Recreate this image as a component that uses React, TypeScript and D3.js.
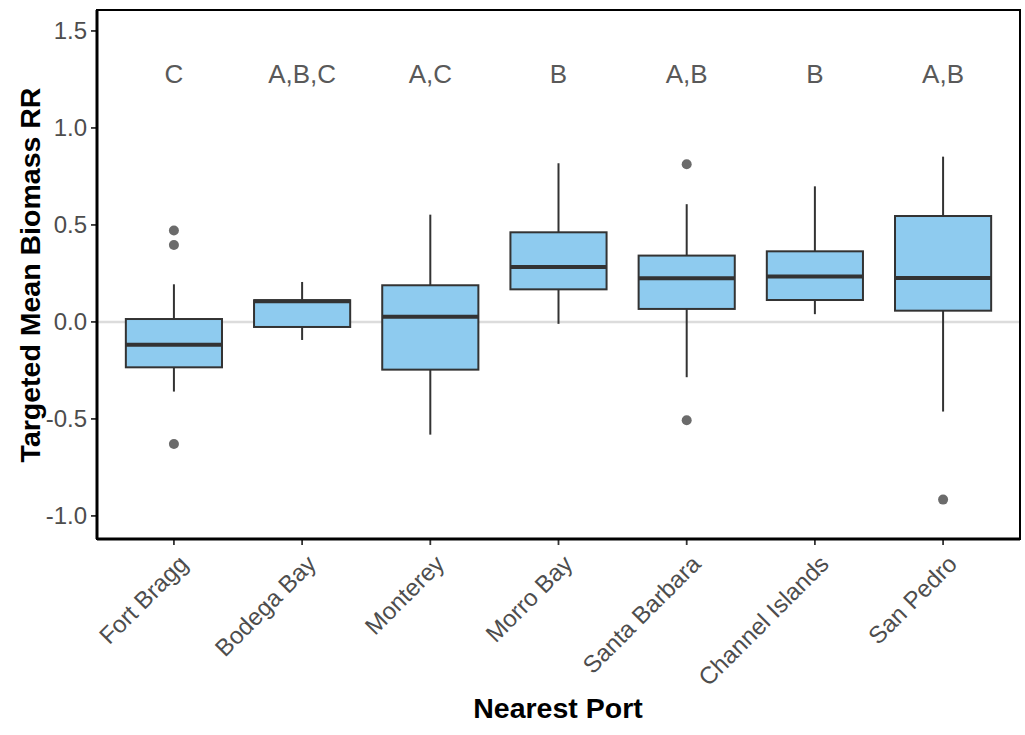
import React from "react";
import * as d3 from "d3";

const ports = ["Fort Bragg", "Bodega Bay", "Monterey", "Morro Bay", "Santa Barbara", "Channel Islands", "San Pedro"];
const q1 = [-0.234, -0.026, -0.246, 0.168, 0.067, 0.113, 0.058];
const medians = [-0.117, 0.106, 0.027, 0.283, 0.225, 0.234, 0.227];
const q3 = [0.015, 0.112, 0.189, 0.462, 0.342, 0.364, 0.546];
const whiskerLow = [-0.359, -0.093, -0.581, -0.010, -0.285, 0.040, -0.462];
const whiskerHigh = [0.194, 0.206, 0.553, 0.818, 0.607, 0.699, 0.852];
const outliers: number[][] = [[0.471, 0.397, -0.629], [], [], [], [0.813, -0.507], [], [-0.916]];
const letters = ["C", "A,B,C", "A,C", "B", "A,B", "B", "A,B"];
const yTicks = [-1.0, -0.5, 0.0, 0.5, 1.0, 1.5];
const letterY = 1.28;

export default function App() {
  const W = 1025, H = 735;
  const left = 97, right = 1020, top = 10, bottom = 539;
  const y = d3.scaleLinear().domain([-1.119, 1.608]).range([bottom, top]);
  const x = d3.scalePoint<string>().domain(ports).range([left, right]).padding(0.6);
  const step = x.step();
  const bw = step * 0.75;
  const font = "Liberation Sans, Arial, Helvetica, sans-serif";
  return (
    <svg width={W} height={H} style={{ position: "absolute", left: 0, top: 0, background: "#fff" }}>
      <rect x={0} y={0} width={W} height={H} fill="#fff" />
      <line x1={left} x2={right} y1={y(0)} y2={y(0)} stroke="#dcdcdc" strokeWidth={2.5} />
      {ports.map((p, i) => {
        const c = x(p) as number;
        return (
          <g key={p}>
            <line x1={c} x2={c} y1={y(q3[i])} y2={y(whiskerHigh[i])} stroke="#333" strokeWidth={2} />
            <line x1={c} x2={c} y1={y(q1[i])} y2={y(whiskerLow[i])} stroke="#333" strokeWidth={2} />
            <rect x={c - bw / 2} y={y(q3[i])} width={bw} height={y(q1[i]) - y(q3[i])} fill="#8ecbef" stroke="#333" strokeWidth={2} />
            <line x1={c - bw / 2} x2={c + bw / 2} y1={y(medians[i])} y2={y(medians[i])} stroke="#333" strokeWidth={4} />
            {outliers[i].map((o, j) => (
              <circle key={j} cx={c} cy={y(o)} r={5} fill="#6b6b6b" />
            ))}
            <text x={c} y={y(letterY)} textAnchor="middle" dominantBaseline="central" fontFamily={font} fontSize={26} fill="#595959">
              {letters[i]}
            </text>
            <line x1={c} x2={c} y1={bottom} y2={bottom + 6} stroke="#333" strokeWidth={1.8} />
            <text
              transform={`translate(${c + 3},${bottom + 14}) rotate(-45)`}
              textAnchor="end"
              dominantBaseline="hanging"
              fontFamily={font}
              fontSize={24}
              fill="#4d4d4d"
            >
              {p}
            </text>
          </g>
        );
      })}
      {yTicks.map((t) => (
        <g key={t}>
          <line x1={left - 6} x2={left} y1={y(t)} y2={y(t)} stroke="#333" strokeWidth={1.8} />
          <text x={left - 10} y={y(t)} textAnchor="end" dominantBaseline="central" fontFamily={font} fontSize={24} fill="#4d4d4d">
            {t.toFixed(1)}
          </text>
        </g>
      ))}
      <rect x={left} y={top} width={right - left} height={bottom - top} fill="none" stroke="#000" strokeWidth={2} />
      <line x1={left} x2={left} y1={top} y2={bottom} stroke="#000" strokeWidth={3} />
      <line x1={left} x2={right} y1={bottom} y2={bottom} stroke="#000" strokeWidth={3} />
      <text
        transform={`translate(30,275) rotate(-90)`}
        textAnchor="middle"
        dominantBaseline="central"
        fontFamily={font}
        fontWeight="bold"
        fontSize={28.5}
        fill="#000"
      >
        Targeted Mean Biomass RR
      </text>
      <text x={558} y={708} textAnchor="middle" dominantBaseline="central" fontFamily={font} fontWeight="bold" fontSize={28.5} fill="#000">
        Nearest Port
      </text>
    </svg>
  );
}
